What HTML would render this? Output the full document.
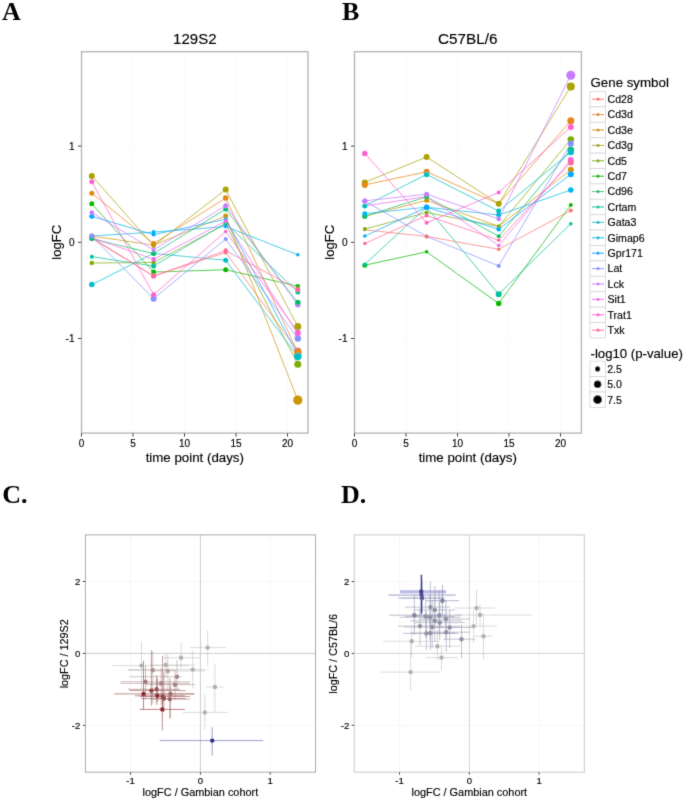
<!DOCTYPE html>
<html><head><meta charset="utf-8"><style>
html,body{margin:0;padding:0;background:#fff;}
svg{display:block;font-family:"Liberation Sans",sans-serif;}
text{stroke:#000;stroke-width:0.15px;}
text.s{stroke:none;}
#wrap{width:685px;height:801px;}
</style></head><body><div id="wrap">
<svg width="685" height="801" viewBox="0 0 685 801">
<defs><filter id="soft" x="0" y="0" width="685" height="801" filterUnits="userSpaceOnUse"><feConvolveMatrix order="3" kernelMatrix="0.015 0.085 0.015 0.085 0.6 0.085 0.015 0.085 0.015" edgeMode="none"/></filter></defs>
<rect width="685" height="801" fill="#fff"/>
<g filter="url(#soft)">
<text class="s" x="2" y="19.5" font-size="26" font-family="Liberation Serif, serif" font-weight="bold" fill="#000">A</text>
<text class="s" x="342" y="19.6" font-size="26" font-family="Liberation Serif, serif" font-weight="bold" fill="#000">B</text>
<text class="s" x="2.2" y="503" font-size="26" font-family="Liberation Serif, serif" font-weight="bold" fill="#000">C.</text>
<text class="s" x="341" y="502.6" font-size="26" font-family="Liberation Serif, serif" font-weight="bold" fill="#000">D.</text>
<line x1="107.2" y1="51.7" x2="107.2" y2="433.1" stroke="#fdfdfd" stroke-width="0"/>
<line x1="158.8" y1="51.7" x2="158.8" y2="433.1" stroke="#fdfdfd" stroke-width="0"/>
<line x1="210.2" y1="51.7" x2="210.2" y2="433.1" stroke="#fdfdfd" stroke-width="0"/>
<line x1="261.8" y1="51.7" x2="261.8" y2="433.1" stroke="#fdfdfd" stroke-width="0"/>
<line x1="81.5" y1="51.7" x2="81.5" y2="433.1" stroke="#fafafa" stroke-width="1"/>
<line x1="133.0" y1="51.7" x2="133.0" y2="433.1" stroke="#fafafa" stroke-width="1"/>
<line x1="184.5" y1="51.7" x2="184.5" y2="433.1" stroke="#fafafa" stroke-width="1"/>
<line x1="236.0" y1="51.7" x2="236.0" y2="433.1" stroke="#fafafa" stroke-width="1"/>
<line x1="287.5" y1="51.7" x2="287.5" y2="433.1" stroke="#fafafa" stroke-width="1"/>
<line x1="81.5" y1="386.6" x2="308.1" y2="386.6" stroke="#fdfdfd" stroke-width="0"/>
<line x1="81.5" y1="290.4" x2="308.1" y2="290.4" stroke="#fdfdfd" stroke-width="0"/>
<line x1="81.5" y1="194.2" x2="308.1" y2="194.2" stroke="#fdfdfd" stroke-width="0"/>
<line x1="81.5" y1="98.0" x2="308.1" y2="98.0" stroke="#fdfdfd" stroke-width="0"/>
<line x1="81.5" y1="338.5" x2="308.1" y2="338.5" stroke="#fafafa" stroke-width="1"/>
<line x1="81.5" y1="242.3" x2="308.1" y2="242.3" stroke="#fafafa" stroke-width="1"/>
<line x1="81.5" y1="146.1" x2="308.1" y2="146.1" stroke="#fafafa" stroke-width="1"/>
<polyline points="91.8,237.5 153.6,276.0 225.7,252.5 297.8,351.0" fill="none" stroke="#F8766D" stroke-width="0.9" stroke-opacity="0.8"/>
<polyline points="91.8,193.2 153.6,243.6 225.7,198.0 297.8,352.5" fill="none" stroke="#E68613" stroke-width="0.9" stroke-opacity="0.8"/>
<polyline points="91.8,236.0 153.6,245.2 225.7,216.0 297.8,400.1" fill="none" stroke="#CD9600" stroke-width="0.9" stroke-opacity="0.8"/>
<polyline points="91.8,175.9 153.6,245.7 225.7,189.5 297.8,326.5" fill="none" stroke="#ABA300" stroke-width="0.9" stroke-opacity="0.8"/>
<polyline points="91.8,263.0 153.6,262.5 225.7,224.0 297.8,364.3" fill="none" stroke="#7CAE00" stroke-width="0.9" stroke-opacity="0.8"/>
<polyline points="91.8,203.8 153.6,272.1 225.7,269.7 297.8,286.2" fill="none" stroke="#0CB702" stroke-width="0.9" stroke-opacity="0.8"/>
<polyline points="91.8,238.8 153.6,253.6 225.7,209.0 297.8,302.5" fill="none" stroke="#00BE67" stroke-width="0.9" stroke-opacity="0.8"/>
<polyline points="91.8,256.7 153.6,266.0 225.7,223.1 297.8,292.1" fill="none" stroke="#00C19A" stroke-width="0.9" stroke-opacity="0.8"/>
<polyline points="91.8,284.6 153.6,253.4 225.7,260.3 297.8,356.4" fill="none" stroke="#00BFC4" stroke-width="0.9" stroke-opacity="0.8"/>
<polyline points="91.8,236.0 153.6,232.1 225.7,226.5 297.8,254.8" fill="none" stroke="#00B8E7" stroke-width="0.9" stroke-opacity="0.8"/>
<polyline points="91.8,216.3 153.6,234.6 225.7,219.2 297.8,354.9" fill="none" stroke="#00A9FF" stroke-width="0.9" stroke-opacity="0.8"/>
<polyline points="91.8,236.0 153.6,298.7 225.7,239.0 297.8,338.5" fill="none" stroke="#8494FF" stroke-width="0.9" stroke-opacity="0.8"/>
<polyline points="91.8,212.5 153.6,250.0 225.7,205.7 297.8,304.8" fill="none" stroke="#C77CFF" stroke-width="0.9" stroke-opacity="0.8"/>
<polyline points="91.8,237.5 153.6,259.3 225.7,221.1 297.8,333.7" fill="none" stroke="#ED68ED" stroke-width="0.9" stroke-opacity="0.8"/>
<polyline points="91.8,181.7 153.6,294.7 225.7,231.5 297.8,332.2" fill="none" stroke="#FF61CC" stroke-width="0.9" stroke-opacity="0.8"/>
<polyline points="91.8,238.5 153.6,276.0 225.7,250.6 297.8,289.4" fill="none" stroke="#FF68A1" stroke-width="0.9" stroke-opacity="0.8"/>
<circle cx="91.8" cy="237.5" r="2.50" fill="#F8766D"/>
<circle cx="153.6" cy="245.7" r="2.25" fill="#ABA300"/>
<circle cx="153.6" cy="253.4" r="2.25" fill="#00BFC4"/>
<circle cx="297.8" cy="354.9" r="3.50" fill="#00A9FF"/>
<circle cx="297.8" cy="304.8" r="2.75" fill="#C77CFF"/>
<circle cx="91.8" cy="237.5" r="2.25" fill="#ED68ED"/>
<circle cx="91.8" cy="238.5" r="2.25" fill="#FF68A1"/>
<circle cx="153.6" cy="276.0" r="2.50" fill="#F8766D"/>
<circle cx="225.7" cy="252.5" r="2.00" fill="#F8766D"/>
<circle cx="297.8" cy="351.0" r="3.50" fill="#F8766D"/>
<circle cx="91.8" cy="193.2" r="2.50" fill="#E68613"/>
<circle cx="153.6" cy="243.6" r="2.50" fill="#E68613"/>
<circle cx="225.7" cy="198.0" r="2.75" fill="#E68613"/>
<circle cx="297.8" cy="352.5" r="3.75" fill="#E68613"/>
<circle cx="91.8" cy="236.0" r="2.50" fill="#CD9600"/>
<circle cx="153.6" cy="245.2" r="2.25" fill="#CD9600"/>
<circle cx="225.7" cy="216.0" r="2.50" fill="#CD9600"/>
<circle cx="297.8" cy="400.1" r="4.65" fill="#CD9600"/>
<circle cx="91.8" cy="175.9" r="3.00" fill="#ABA300"/>
<circle cx="225.7" cy="189.5" r="3.00" fill="#ABA300"/>
<circle cx="297.8" cy="326.5" r="3.50" fill="#ABA300"/>
<circle cx="91.8" cy="263.0" r="2.25" fill="#7CAE00"/>
<circle cx="153.6" cy="262.5" r="2.25" fill="#7CAE00"/>
<circle cx="225.7" cy="224.0" r="2.50" fill="#7CAE00"/>
<circle cx="297.8" cy="364.3" r="3.50" fill="#7CAE00"/>
<circle cx="91.8" cy="203.8" r="2.50" fill="#0CB702"/>
<circle cx="153.6" cy="272.1" r="2.50" fill="#0CB702"/>
<circle cx="225.7" cy="269.7" r="2.50" fill="#0CB702"/>
<circle cx="297.8" cy="286.2" r="2.25" fill="#0CB702"/>
<circle cx="91.8" cy="238.8" r="2.50" fill="#00BE67"/>
<circle cx="153.6" cy="253.6" r="2.50" fill="#00BE67"/>
<circle cx="225.7" cy="209.0" r="2.50" fill="#00BE67"/>
<circle cx="297.8" cy="302.5" r="2.75" fill="#00BE67"/>
<circle cx="91.8" cy="256.7" r="2.00" fill="#00C19A"/>
<circle cx="153.6" cy="266.0" r="2.50" fill="#00C19A"/>
<circle cx="225.7" cy="223.1" r="2.00" fill="#00C19A"/>
<circle cx="297.8" cy="292.1" r="2.50" fill="#00C19A"/>
<circle cx="91.8" cy="284.6" r="2.75" fill="#00BFC4"/>
<circle cx="225.7" cy="260.3" r="2.50" fill="#00BFC4"/>
<circle cx="297.8" cy="356.4" r="3.75" fill="#00BFC4"/>
<circle cx="91.8" cy="236.0" r="2.00" fill="#00B8E7"/>
<circle cx="153.6" cy="232.1" r="2.00" fill="#00B8E7"/>
<circle cx="225.7" cy="226.5" r="2.00" fill="#00B8E7"/>
<circle cx="297.8" cy="254.8" r="1.75" fill="#00B8E7"/>
<circle cx="91.8" cy="216.3" r="2.50" fill="#00A9FF"/>
<circle cx="153.6" cy="234.6" r="2.00" fill="#00A9FF"/>
<circle cx="225.7" cy="219.2" r="2.00" fill="#00A9FF"/>
<circle cx="91.8" cy="236.0" r="2.50" fill="#8494FF"/>
<circle cx="153.6" cy="298.7" r="3.00" fill="#8494FF"/>
<circle cx="225.7" cy="239.0" r="2.00" fill="#8494FF"/>
<circle cx="297.8" cy="338.5" r="3.25" fill="#8494FF"/>
<circle cx="91.8" cy="212.5" r="2.25" fill="#C77CFF"/>
<circle cx="153.6" cy="250.0" r="2.00" fill="#C77CFF"/>
<circle cx="225.7" cy="205.7" r="2.50" fill="#C77CFF"/>
<circle cx="153.6" cy="259.3" r="2.25" fill="#ED68ED"/>
<circle cx="225.7" cy="221.1" r="2.00" fill="#ED68ED"/>
<circle cx="297.8" cy="333.7" r="2.75" fill="#ED68ED"/>
<circle cx="91.8" cy="181.7" r="2.50" fill="#FF61CC"/>
<circle cx="153.6" cy="294.7" r="2.50" fill="#FF61CC"/>
<circle cx="225.7" cy="231.5" r="1.75" fill="#FF61CC"/>
<circle cx="297.8" cy="332.2" r="2.75" fill="#FF61CC"/>
<circle cx="153.6" cy="276.0" r="2.50" fill="#FF68A1"/>
<circle cx="225.7" cy="250.6" r="2.25" fill="#FF68A1"/>
<circle cx="297.8" cy="289.4" r="2.50" fill="#FF68A1"/>
<rect x="81.5" y="51.7" width="226.5" height="381.4" fill="none" stroke="#b6b6b6" stroke-width="1.35"/>
<line x1="81.5" y1="433.1" x2="81.5" y2="436.6" stroke="#444" stroke-width="1"/>
<text x="81.5" y="446.8" font-size="10" text-anchor="middle" fill="#000" >0</text>
<line x1="133.0" y1="433.1" x2="133.0" y2="436.6" stroke="#444" stroke-width="1"/>
<text x="133.0" y="446.8" font-size="10" text-anchor="middle" fill="#000" >5</text>
<line x1="184.5" y1="433.1" x2="184.5" y2="436.6" stroke="#444" stroke-width="1"/>
<text x="184.5" y="446.8" font-size="10" text-anchor="middle" fill="#000" >10</text>
<line x1="236.0" y1="433.1" x2="236.0" y2="436.6" stroke="#444" stroke-width="1"/>
<text x="236.0" y="446.8" font-size="10" text-anchor="middle" fill="#000" >15</text>
<line x1="287.5" y1="433.1" x2="287.5" y2="436.6" stroke="#444" stroke-width="1"/>
<text x="287.5" y="446.8" font-size="10" text-anchor="middle" fill="#000" >20</text>
<line x1="78.0" y1="338.5" x2="81.5" y2="338.5" stroke="#444" stroke-width="1"/>
<text x="74.5" y="342.2" font-size="10" text-anchor="end" fill="#000" >-1</text>
<line x1="78.0" y1="242.3" x2="81.5" y2="242.3" stroke="#444" stroke-width="1"/>
<text x="74.5" y="246.0" font-size="10" text-anchor="end" fill="#000" >0</text>
<line x1="78.0" y1="146.1" x2="81.5" y2="146.1" stroke="#444" stroke-width="1"/>
<text x="74.5" y="149.8" font-size="10" text-anchor="end" fill="#000" >1</text>
<text x="194.8" y="44.2" font-size="15" text-anchor="middle" fill="#000" >129S2</text>
<text x="194.8" y="462.4" font-size="13.3" text-anchor="middle" fill="#000" >time point (days)</text>
<text x="0" y="0" font-size="13" text-anchor="middle" fill="#000" transform="translate(60.7,242.3) rotate(-90)">logFC</text>
<line x1="380.2" y1="51.7" x2="380.2" y2="433.1" stroke="#fdfdfd" stroke-width="0"/>
<line x1="431.8" y1="51.7" x2="431.8" y2="433.1" stroke="#fdfdfd" stroke-width="0"/>
<line x1="483.2" y1="51.7" x2="483.2" y2="433.1" stroke="#fdfdfd" stroke-width="0"/>
<line x1="534.8" y1="51.7" x2="534.8" y2="433.1" stroke="#fdfdfd" stroke-width="0"/>
<line x1="354.5" y1="51.7" x2="354.5" y2="433.1" stroke="#fafafa" stroke-width="1"/>
<line x1="406.0" y1="51.7" x2="406.0" y2="433.1" stroke="#fafafa" stroke-width="1"/>
<line x1="457.5" y1="51.7" x2="457.5" y2="433.1" stroke="#fafafa" stroke-width="1"/>
<line x1="509.0" y1="51.7" x2="509.0" y2="433.1" stroke="#fafafa" stroke-width="1"/>
<line x1="560.5" y1="51.7" x2="560.5" y2="433.1" stroke="#fafafa" stroke-width="1"/>
<line x1="354.5" y1="386.6" x2="581.1" y2="386.6" stroke="#fdfdfd" stroke-width="0"/>
<line x1="354.5" y1="290.4" x2="581.1" y2="290.4" stroke="#fdfdfd" stroke-width="0"/>
<line x1="354.5" y1="194.2" x2="581.1" y2="194.2" stroke="#fdfdfd" stroke-width="0"/>
<line x1="354.5" y1="98.0" x2="581.1" y2="98.0" stroke="#fdfdfd" stroke-width="0"/>
<line x1="354.5" y1="338.5" x2="581.1" y2="338.5" stroke="#fafafa" stroke-width="1"/>
<line x1="354.5" y1="242.3" x2="581.1" y2="242.3" stroke="#fafafa" stroke-width="1"/>
<line x1="354.5" y1="146.1" x2="581.1" y2="146.1" stroke="#fafafa" stroke-width="1"/>
<polyline points="364.8,229.8 426.6,236.4 498.7,249.3 570.8,210.6" fill="none" stroke="#F8766D" stroke-width="0.9" stroke-opacity="0.8"/>
<polyline points="364.8,184.9 426.6,171.8 498.7,203.8 570.8,120.8" fill="none" stroke="#E68613" stroke-width="0.9" stroke-opacity="0.8"/>
<polyline points="364.8,216.3 426.6,200.3 498.7,226.4 570.8,169.8" fill="none" stroke="#CD9600" stroke-width="0.9" stroke-opacity="0.8"/>
<polyline points="364.8,182.4 426.6,157.0 498.7,203.8 570.8,86.5" fill="none" stroke="#ABA300" stroke-width="0.9" stroke-opacity="0.8"/>
<polyline points="364.8,229.1 426.6,212.5 498.7,226.4 570.8,139.4" fill="none" stroke="#7CAE00" stroke-width="0.9" stroke-opacity="0.8"/>
<polyline points="364.8,265.2 426.6,251.8 498.7,303.5 570.8,205.1" fill="none" stroke="#0CB702" stroke-width="0.9" stroke-opacity="0.8"/>
<polyline points="364.8,216.3 426.6,196.8 498.7,236.2 570.8,149.7" fill="none" stroke="#00BE67" stroke-width="0.9" stroke-opacity="0.8"/>
<polyline points="364.8,264.4 426.6,207.2 498.7,294.2 570.8,223.7" fill="none" stroke="#00C19A" stroke-width="0.9" stroke-opacity="0.8"/>
<polyline points="364.8,205.9 426.6,174.4 498.7,211.1 570.8,151.9" fill="none" stroke="#00BFC4" stroke-width="0.9" stroke-opacity="0.8"/>
<polyline points="364.8,213.7 426.6,207.2 498.7,215.0 570.8,190.0" fill="none" stroke="#00B8E7" stroke-width="0.9" stroke-opacity="0.8"/>
<polyline points="364.8,236.1 426.6,207.2 498.7,229.2 570.8,174.3" fill="none" stroke="#00A9FF" stroke-width="0.9" stroke-opacity="0.8"/>
<polyline points="364.8,201.1 426.6,236.4 498.7,265.9 570.8,143.7" fill="none" stroke="#8494FF" stroke-width="0.9" stroke-opacity="0.8"/>
<polyline points="364.8,200.9 426.6,194.2 498.7,219.0 570.8,75.3" fill="none" stroke="#C77CFF" stroke-width="0.9" stroke-opacity="0.8"/>
<polyline points="364.8,205.9 426.6,196.6 498.7,245.5 570.8,160.1" fill="none" stroke="#ED68ED" stroke-width="0.9" stroke-opacity="0.8"/>
<polyline points="364.8,153.4 426.6,222.8 498.7,192.4 570.8,126.9" fill="none" stroke="#FF61CC" stroke-width="0.9" stroke-opacity="0.8"/>
<polyline points="364.8,243.6 426.6,215.5 498.7,240.2 570.8,162.5" fill="none" stroke="#FF68A1" stroke-width="0.9" stroke-opacity="0.8"/>
<circle cx="364.8" cy="182.4" r="3.00" fill="#ABA300"/>
<circle cx="426.6" cy="236.4" r="2.00" fill="#8494FF"/>
<circle cx="364.8" cy="205.9" r="2.00" fill="#ED68ED"/>
<circle cx="426.6" cy="196.6" r="2.00" fill="#ED68ED"/>
<circle cx="364.8" cy="229.8" r="1.50" fill="#F8766D"/>
<circle cx="426.6" cy="236.4" r="2.00" fill="#F8766D"/>
<circle cx="498.7" cy="249.3" r="1.75" fill="#F8766D"/>
<circle cx="570.8" cy="210.6" r="2.00" fill="#F8766D"/>
<circle cx="364.8" cy="184.9" r="3.00" fill="#E68613"/>
<circle cx="426.6" cy="171.8" r="3.00" fill="#E68613"/>
<circle cx="498.7" cy="203.8" r="2.50" fill="#E68613"/>
<circle cx="570.8" cy="120.8" r="3.50" fill="#E68613"/>
<circle cx="364.8" cy="216.3" r="2.50" fill="#CD9600"/>
<circle cx="426.6" cy="200.3" r="2.50" fill="#CD9600"/>
<circle cx="498.7" cy="226.4" r="2.00" fill="#CD9600"/>
<circle cx="570.8" cy="169.8" r="3.00" fill="#CD9600"/>
<circle cx="426.6" cy="157.0" r="3.00" fill="#ABA300"/>
<circle cx="498.7" cy="203.8" r="3.00" fill="#ABA300"/>
<circle cx="570.8" cy="86.5" r="4.00" fill="#ABA300"/>
<circle cx="364.8" cy="229.1" r="2.00" fill="#7CAE00"/>
<circle cx="426.6" cy="212.5" r="2.00" fill="#7CAE00"/>
<circle cx="498.7" cy="226.4" r="2.00" fill="#7CAE00"/>
<circle cx="570.8" cy="139.4" r="3.25" fill="#7CAE00"/>
<circle cx="364.8" cy="265.2" r="2.50" fill="#0CB702"/>
<circle cx="426.6" cy="251.8" r="1.75" fill="#0CB702"/>
<circle cx="498.7" cy="303.5" r="2.75" fill="#0CB702"/>
<circle cx="570.8" cy="205.1" r="2.00" fill="#0CB702"/>
<circle cx="364.8" cy="216.3" r="2.50" fill="#00BE67"/>
<circle cx="426.6" cy="196.8" r="2.50" fill="#00BE67"/>
<circle cx="498.7" cy="236.2" r="2.00" fill="#00BE67"/>
<circle cx="570.8" cy="149.7" r="3.25" fill="#00BE67"/>
<circle cx="364.8" cy="264.4" r="2.00" fill="#00C19A"/>
<circle cx="426.6" cy="207.2" r="2.50" fill="#00C19A"/>
<circle cx="498.7" cy="294.2" r="3.00" fill="#00C19A"/>
<circle cx="570.8" cy="223.7" r="1.75" fill="#00C19A"/>
<circle cx="364.8" cy="205.9" r="2.50" fill="#00BFC4"/>
<circle cx="426.6" cy="174.4" r="2.75" fill="#00BFC4"/>
<circle cx="498.7" cy="211.1" r="2.50" fill="#00BFC4"/>
<circle cx="570.8" cy="151.9" r="3.25" fill="#00BFC4"/>
<circle cx="364.8" cy="213.7" r="2.50" fill="#00B8E7"/>
<circle cx="426.6" cy="207.2" r="2.50" fill="#00B8E7"/>
<circle cx="498.7" cy="215.0" r="2.50" fill="#00B8E7"/>
<circle cx="570.8" cy="190.0" r="2.75" fill="#00B8E7"/>
<circle cx="364.8" cy="236.1" r="1.75" fill="#00A9FF"/>
<circle cx="426.6" cy="207.2" r="2.75" fill="#00A9FF"/>
<circle cx="498.7" cy="229.2" r="2.25" fill="#00A9FF"/>
<circle cx="570.8" cy="174.3" r="3.00" fill="#00A9FF"/>
<circle cx="364.8" cy="201.1" r="2.50" fill="#8494FF"/>
<circle cx="498.7" cy="265.9" r="2.00" fill="#8494FF"/>
<circle cx="570.8" cy="143.7" r="3.00" fill="#8494FF"/>
<circle cx="364.8" cy="200.9" r="2.50" fill="#C77CFF"/>
<circle cx="426.6" cy="194.2" r="2.50" fill="#C77CFF"/>
<circle cx="498.7" cy="219.0" r="2.25" fill="#C77CFF"/>
<circle cx="570.8" cy="75.3" r="4.50" fill="#C77CFF"/>
<circle cx="498.7" cy="245.5" r="1.75" fill="#ED68ED"/>
<circle cx="570.8" cy="160.1" r="3.00" fill="#ED68ED"/>
<circle cx="364.8" cy="153.4" r="2.75" fill="#FF61CC"/>
<circle cx="426.6" cy="222.8" r="2.00" fill="#FF61CC"/>
<circle cx="498.7" cy="192.4" r="2.00" fill="#FF61CC"/>
<circle cx="570.8" cy="126.9" r="3.00" fill="#FF61CC"/>
<circle cx="364.8" cy="243.6" r="1.75" fill="#FF68A1"/>
<circle cx="426.6" cy="215.5" r="2.00" fill="#FF68A1"/>
<circle cx="498.7" cy="240.2" r="1.75" fill="#FF68A1"/>
<circle cx="570.8" cy="162.5" r="3.00" fill="#FF68A1"/>
<rect x="354.5" y="51.7" width="226.9" height="381.4" fill="none" stroke="#b6b6b6" stroke-width="1.35"/>
<line x1="354.5" y1="433.1" x2="354.5" y2="436.6" stroke="#444" stroke-width="1"/>
<text x="354.5" y="446.8" font-size="10" text-anchor="middle" fill="#000" >0</text>
<line x1="406.0" y1="433.1" x2="406.0" y2="436.6" stroke="#444" stroke-width="1"/>
<text x="406.0" y="446.8" font-size="10" text-anchor="middle" fill="#000" >5</text>
<line x1="457.5" y1="433.1" x2="457.5" y2="436.6" stroke="#444" stroke-width="1"/>
<text x="457.5" y="446.8" font-size="10" text-anchor="middle" fill="#000" >10</text>
<line x1="509.0" y1="433.1" x2="509.0" y2="436.6" stroke="#444" stroke-width="1"/>
<text x="509.0" y="446.8" font-size="10" text-anchor="middle" fill="#000" >15</text>
<line x1="560.5" y1="433.1" x2="560.5" y2="436.6" stroke="#444" stroke-width="1"/>
<text x="560.5" y="446.8" font-size="10" text-anchor="middle" fill="#000" >20</text>
<line x1="351.0" y1="338.5" x2="354.5" y2="338.5" stroke="#444" stroke-width="1"/>
<text x="347.5" y="342.2" font-size="10" text-anchor="end" fill="#000" >-1</text>
<line x1="351.0" y1="242.3" x2="354.5" y2="242.3" stroke="#444" stroke-width="1"/>
<text x="347.5" y="246.0" font-size="10" text-anchor="end" fill="#000" >0</text>
<line x1="351.0" y1="146.1" x2="354.5" y2="146.1" stroke="#444" stroke-width="1"/>
<text x="347.5" y="149.8" font-size="10" text-anchor="end" fill="#000" >1</text>
<text x="467.8" y="44.2" font-size="15.3" text-anchor="middle" fill="#000" >C57BL/6</text>
<text x="467.8" y="462.4" font-size="13.3" text-anchor="middle" fill="#000" >time point (days)</text>
<text x="0" y="0" font-size="13" text-anchor="middle" fill="#000" transform="translate(333.7,242.3) rotate(-90)">logFC</text>
<text x="590.5" y="87.2" font-size="13.3" text-anchor="start" fill="#000" >Gene symbol</text>
<rect x="590" y="91.5" width="15.5" height="15.4" fill="#fff" stroke="#d4d4d4" stroke-width="0.8"/>
<line x1="592" y1="99.2" x2="604" y2="99.2" stroke="#F8766D" stroke-width="1"/>
<circle cx="598" cy="99.2" r="1.6" fill="#F8766D"/>
<text x="607.5" y="103.0" font-size="10.6" text-anchor="start" fill="#000" >Cd28</text>
<rect x="590" y="106.9" width="15.5" height="15.4" fill="#fff" stroke="#d4d4d4" stroke-width="0.8"/>
<line x1="592" y1="114.6" x2="604" y2="114.6" stroke="#E68613" stroke-width="1"/>
<circle cx="598" cy="114.6" r="1.6" fill="#E68613"/>
<text x="607.5" y="118.4" font-size="10.6" text-anchor="start" fill="#000" >Cd3d</text>
<rect x="590" y="122.3" width="15.5" height="15.4" fill="#fff" stroke="#d4d4d4" stroke-width="0.8"/>
<line x1="592" y1="130.0" x2="604" y2="130.0" stroke="#CD9600" stroke-width="1"/>
<circle cx="598" cy="130.0" r="1.6" fill="#CD9600"/>
<text x="607.5" y="133.8" font-size="10.6" text-anchor="start" fill="#000" >Cd3e</text>
<rect x="590" y="137.7" width="15.5" height="15.4" fill="#fff" stroke="#d4d4d4" stroke-width="0.8"/>
<line x1="592" y1="145.4" x2="604" y2="145.4" stroke="#ABA300" stroke-width="1"/>
<circle cx="598" cy="145.4" r="1.6" fill="#ABA300"/>
<text x="607.5" y="149.2" font-size="10.6" text-anchor="start" fill="#000" >Cd3g</text>
<rect x="590" y="153.1" width="15.5" height="15.4" fill="#fff" stroke="#d4d4d4" stroke-width="0.8"/>
<line x1="592" y1="160.8" x2="604" y2="160.8" stroke="#7CAE00" stroke-width="1"/>
<circle cx="598" cy="160.8" r="1.6" fill="#7CAE00"/>
<text x="607.5" y="164.6" font-size="10.6" text-anchor="start" fill="#000" >Cd5</text>
<rect x="590" y="168.5" width="15.5" height="15.4" fill="#fff" stroke="#d4d4d4" stroke-width="0.8"/>
<line x1="592" y1="176.2" x2="604" y2="176.2" stroke="#0CB702" stroke-width="1"/>
<circle cx="598" cy="176.2" r="1.6" fill="#0CB702"/>
<text x="607.5" y="180.0" font-size="10.6" text-anchor="start" fill="#000" >Cd7</text>
<rect x="590" y="183.9" width="15.5" height="15.4" fill="#fff" stroke="#d4d4d4" stroke-width="0.8"/>
<line x1="592" y1="191.6" x2="604" y2="191.6" stroke="#00BE67" stroke-width="1"/>
<circle cx="598" cy="191.6" r="1.6" fill="#00BE67"/>
<text x="607.5" y="195.4" font-size="10.6" text-anchor="start" fill="#000" >Cd96</text>
<rect x="590" y="199.3" width="15.5" height="15.4" fill="#fff" stroke="#d4d4d4" stroke-width="0.8"/>
<line x1="592" y1="207.0" x2="604" y2="207.0" stroke="#00C19A" stroke-width="1"/>
<circle cx="598" cy="207.0" r="1.6" fill="#00C19A"/>
<text x="607.5" y="210.8" font-size="10.6" text-anchor="start" fill="#000" >Crtam</text>
<rect x="590" y="214.7" width="15.5" height="15.4" fill="#fff" stroke="#d4d4d4" stroke-width="0.8"/>
<line x1="592" y1="222.4" x2="604" y2="222.4" stroke="#00BFC4" stroke-width="1"/>
<circle cx="598" cy="222.4" r="1.6" fill="#00BFC4"/>
<text x="607.5" y="226.2" font-size="10.6" text-anchor="start" fill="#000" >Gata3</text>
<rect x="590" y="230.1" width="15.5" height="15.4" fill="#fff" stroke="#d4d4d4" stroke-width="0.8"/>
<line x1="592" y1="237.8" x2="604" y2="237.8" stroke="#00B8E7" stroke-width="1"/>
<circle cx="598" cy="237.8" r="1.6" fill="#00B8E7"/>
<text x="607.5" y="241.6" font-size="10.6" text-anchor="start" fill="#000" >Gimap6</text>
<rect x="590" y="245.5" width="15.5" height="15.4" fill="#fff" stroke="#d4d4d4" stroke-width="0.8"/>
<line x1="592" y1="253.2" x2="604" y2="253.2" stroke="#00A9FF" stroke-width="1"/>
<circle cx="598" cy="253.2" r="1.6" fill="#00A9FF"/>
<text x="607.5" y="257.0" font-size="10.6" text-anchor="start" fill="#000" >Gpr171</text>
<rect x="590" y="260.9" width="15.5" height="15.4" fill="#fff" stroke="#d4d4d4" stroke-width="0.8"/>
<line x1="592" y1="268.6" x2="604" y2="268.6" stroke="#8494FF" stroke-width="1"/>
<circle cx="598" cy="268.6" r="1.6" fill="#8494FF"/>
<text x="607.5" y="272.4" font-size="10.6" text-anchor="start" fill="#000" >Lat</text>
<rect x="590" y="276.3" width="15.5" height="15.4" fill="#fff" stroke="#d4d4d4" stroke-width="0.8"/>
<line x1="592" y1="284.0" x2="604" y2="284.0" stroke="#C77CFF" stroke-width="1"/>
<circle cx="598" cy="284.0" r="1.6" fill="#C77CFF"/>
<text x="607.5" y="287.8" font-size="10.6" text-anchor="start" fill="#000" >Lck</text>
<rect x="590" y="291.7" width="15.5" height="15.4" fill="#fff" stroke="#d4d4d4" stroke-width="0.8"/>
<line x1="592" y1="299.4" x2="604" y2="299.4" stroke="#ED68ED" stroke-width="1"/>
<circle cx="598" cy="299.4" r="1.6" fill="#ED68ED"/>
<text x="607.5" y="303.2" font-size="10.6" text-anchor="start" fill="#000" >Sit1</text>
<rect x="590" y="307.1" width="15.5" height="15.4" fill="#fff" stroke="#d4d4d4" stroke-width="0.8"/>
<line x1="592" y1="314.8" x2="604" y2="314.8" stroke="#FF61CC" stroke-width="1"/>
<circle cx="598" cy="314.8" r="1.6" fill="#FF61CC"/>
<text x="607.5" y="318.6" font-size="10.6" text-anchor="start" fill="#000" >Trat1</text>
<rect x="590" y="322.5" width="15.5" height="15.4" fill="#fff" stroke="#d4d4d4" stroke-width="0.8"/>
<line x1="592" y1="330.2" x2="604" y2="330.2" stroke="#FF68A1" stroke-width="1"/>
<circle cx="598" cy="330.2" r="1.6" fill="#FF68A1"/>
<text x="607.5" y="334.0" font-size="10.6" text-anchor="start" fill="#000" >Txk</text>
<text x="590.5" y="357.6" font-size="13.2" text-anchor="start" fill="#000" >-log10 (p-value)</text>
<rect x="590" y="361.2" width="15.5" height="15.4" fill="#fff" stroke="#d4d4d4" stroke-width="0.8"/>
<circle cx="597.6" cy="368.9" r="2.6" fill="#000"/>
<text x="607.2" y="372.7" font-size="10.6" text-anchor="start" fill="#000" >2.5</text>
<rect x="590" y="376.6" width="15.5" height="15.4" fill="#fff" stroke="#d4d4d4" stroke-width="0.8"/>
<circle cx="597.6" cy="384.3" r="3.8" fill="#000"/>
<text x="607.2" y="388.1" font-size="10.6" text-anchor="start" fill="#000" >5.0</text>
<rect x="590" y="392.0" width="15.5" height="15.4" fill="#fff" stroke="#d4d4d4" stroke-width="0.8"/>
<circle cx="597.6" cy="399.7" r="4.4" fill="#000"/>
<text x="607.2" y="403.5" font-size="10.6" text-anchor="start" fill="#000" >7.5</text>
<line x1="95.7" y1="534.9" x2="95.7" y2="772.2" stroke="#fbfbfb" stroke-width="0"/>
<line x1="165.5" y1="534.9" x2="165.5" y2="772.2" stroke="#fbfbfb" stroke-width="0"/>
<line x1="235.3" y1="534.9" x2="235.3" y2="772.2" stroke="#fbfbfb" stroke-width="0"/>
<line x1="305.1" y1="534.9" x2="305.1" y2="772.2" stroke="#fbfbfb" stroke-width="0"/>
<line x1="130.6" y1="534.9" x2="130.6" y2="772.2" stroke="#f7f7f7" stroke-width="1"/>
<line x1="270.2" y1="534.9" x2="270.2" y2="772.2" stroke="#f7f7f7" stroke-width="1"/>
<line x1="85.4" y1="761.2" x2="315.5" y2="761.2" stroke="#fbfbfb" stroke-width="0"/>
<line x1="85.4" y1="689.4" x2="315.5" y2="689.4" stroke="#fbfbfb" stroke-width="0"/>
<line x1="85.4" y1="617.4" x2="315.5" y2="617.4" stroke="#fbfbfb" stroke-width="0"/>
<line x1="85.4" y1="545.5" x2="315.5" y2="545.5" stroke="#fbfbfb" stroke-width="0"/>
<line x1="85.4" y1="725.3" x2="315.5" y2="725.3" stroke="#f7f7f7" stroke-width="1"/>
<line x1="85.4" y1="581.5" x2="315.5" y2="581.5" stroke="#f7f7f7" stroke-width="1"/>
<line x1="200.4" y1="534.9" x2="200.4" y2="772.2" stroke="#cccccc" stroke-width="1"/>
<line x1="85.4" y1="653.4" x2="315.5" y2="653.4" stroke="#cccccc" stroke-width="1"/>
<line x1="190" y1="647.6" x2="225.7" y2="647.6" stroke="#bebebe" stroke-width="0.9" stroke-opacity="0.62"/>
<line x1="207.7" y1="630.2" x2="207.7" y2="666" stroke="#bebebe" stroke-width="0.9" stroke-opacity="0.62"/>
<line x1="162.6" y1="657.8" x2="200.5" y2="657.8" stroke="#bebebe" stroke-width="0.9" stroke-opacity="0.62"/>
<line x1="181.1" y1="642.5" x2="181.1" y2="669" stroke="#bebebe" stroke-width="0.9" stroke-opacity="0.62"/>
<line x1="112.5" y1="665.6" x2="189" y2="665.6" stroke="#bebebe" stroke-width="0.9" stroke-opacity="0.62"/>
<line x1="141.5" y1="641.5" x2="141.5" y2="689.5" stroke="#bebebe" stroke-width="0.9" stroke-opacity="0.62"/>
<line x1="150" y1="665" x2="195" y2="665" stroke="#bebebe" stroke-width="0.9" stroke-opacity="0.62"/>
<line x1="165.8" y1="653" x2="165.8" y2="677.5" stroke="#bebebe" stroke-width="0.9" stroke-opacity="0.62"/>
<line x1="128.6" y1="669.6" x2="207.3" y2="669.6" stroke="#bebebe" stroke-width="0.9" stroke-opacity="0.62"/>
<line x1="192.8" y1="650.5" x2="192.8" y2="688.6" stroke="#bebebe" stroke-width="0.9" stroke-opacity="0.62"/>
<line x1="128" y1="670.2" x2="175" y2="670.2" stroke="#b39d9d" stroke-width="0.9" stroke-opacity="0.62"/>
<line x1="152.7" y1="651" x2="152.7" y2="704" stroke="#b39d9d" stroke-width="0.9" stroke-opacity="0.62"/>
<line x1="150" y1="670.9" x2="205" y2="670.9" stroke="#b8aeae" stroke-width="0.9" stroke-opacity="0.62"/>
<line x1="167.8" y1="654.5" x2="167.8" y2="690.6" stroke="#b8aeae" stroke-width="0.9" stroke-opacity="0.62"/>
<line x1="129.6" y1="676.7" x2="181.7" y2="676.7" stroke="#b09595" stroke-width="0.9" stroke-opacity="0.62"/>
<line x1="177" y1="660" x2="177" y2="690" stroke="#b09595" stroke-width="0.9" stroke-opacity="0.62"/>
<line x1="120.5" y1="681.8" x2="190" y2="681.8" stroke="#ab8484" stroke-width="0.9" stroke-opacity="0.62"/>
<line x1="145.5" y1="665" x2="145.5" y2="700" stroke="#ab8484" stroke-width="0.9" stroke-opacity="0.62"/>
<line x1="120.4" y1="683.4" x2="190" y2="683.4" stroke="#ae8c8c" stroke-width="0.9" stroke-opacity="0.62"/>
<line x1="161.2" y1="668" x2="161.2" y2="705" stroke="#ae8c8c" stroke-width="0.9" stroke-opacity="0.62"/>
<line x1="145" y1="684.7" x2="195" y2="684.7" stroke="#ae8c8c" stroke-width="0.9" stroke-opacity="0.62"/>
<line x1="175" y1="670" x2="175" y2="700" stroke="#ae8c8c" stroke-width="0.9" stroke-opacity="0.62"/>
<line x1="128" y1="689.3" x2="180" y2="689.3" stroke="#9d5b5b" stroke-width="0.9" stroke-opacity="0.62"/>
<line x1="156.6" y1="675" x2="156.6" y2="705" stroke="#9d5b5b" stroke-width="0.9" stroke-opacity="0.62"/>
<line x1="129.6" y1="690.6" x2="185.8" y2="690.6" stroke="#954242" stroke-width="0.9" stroke-opacity="0.62"/>
<line x1="151.4" y1="650.5" x2="151.4" y2="705.7" stroke="#954242" stroke-width="0.9" stroke-opacity="0.62"/>
<line x1="114.3" y1="693.9" x2="194" y2="693.9" stroke="#8c2a2a" stroke-width="0.9" stroke-opacity="0.62"/>
<line x1="143.5" y1="661" x2="143.5" y2="709.6" stroke="#8c2a2a" stroke-width="0.9" stroke-opacity="0.62"/>
<line x1="135" y1="695.8" x2="185" y2="695.8" stroke="#8f3232" stroke-width="0.9" stroke-opacity="0.62"/>
<line x1="157.3" y1="678" x2="157.3" y2="702.4" stroke="#8f3232" stroke-width="0.9" stroke-opacity="0.62"/>
<line x1="140" y1="696.5" x2="190" y2="696.5" stroke="#984b4b" stroke-width="0.9" stroke-opacity="0.62"/>
<line x1="162.6" y1="655.8" x2="162.6" y2="710" stroke="#984b4b" stroke-width="0.9" stroke-opacity="0.62"/>
<line x1="140.9" y1="698.5" x2="185.8" y2="698.5" stroke="#9a5353" stroke-width="0.9" stroke-opacity="0.62"/>
<line x1="163.9" y1="672" x2="163.9" y2="712" stroke="#9a5353" stroke-width="0.9" stroke-opacity="0.62"/>
<line x1="150" y1="693.9" x2="195" y2="693.9" stroke="#a57474" stroke-width="0.9" stroke-opacity="0.62"/>
<line x1="170.4" y1="685.4" x2="170.4" y2="718" stroke="#a57474" stroke-width="0.9" stroke-opacity="0.62"/>
<line x1="150" y1="699.1" x2="190" y2="699.1" stroke="#a26c6c" stroke-width="0.9" stroke-opacity="0.62"/>
<line x1="169.8" y1="678" x2="169.8" y2="718.8" stroke="#a26c6c" stroke-width="0.9" stroke-opacity="0.62"/>
<line x1="139.6" y1="709.4" x2="184.9" y2="709.4" stroke="#8c2a2a" stroke-width="0.9" stroke-opacity="0.62"/>
<line x1="162.3" y1="697.7" x2="162.3" y2="730.4" stroke="#8c2a2a" stroke-width="0.9" stroke-opacity="0.62"/>
<line x1="206.3" y1="687" x2="223.6" y2="687" stroke="#bebebe" stroke-width="0.9" stroke-opacity="0.62"/>
<line x1="214.9" y1="664" x2="214.9" y2="712" stroke="#bebebe" stroke-width="0.9" stroke-opacity="0.62"/>
<line x1="182.8" y1="712.4" x2="227.7" y2="712.4" stroke="#bebebe" stroke-width="0.9" stroke-opacity="0.62"/>
<line x1="204.8" y1="694.6" x2="204.8" y2="729.3" stroke="#bebebe" stroke-width="0.9" stroke-opacity="0.62"/>
<line x1="159.8" y1="740.6" x2="263.1" y2="740.6" stroke="#5050a8" stroke-width="0.9" stroke-opacity="0.62"/>
<line x1="212.2" y1="727.1" x2="212.2" y2="755.6" stroke="#5050a8" stroke-width="0.9" stroke-opacity="0.62"/>
<circle cx="207.7" cy="647.6" r="2.2" fill="#b0b0b0"/>
<circle cx="181.1" cy="657.8" r="2.2" fill="#b0b0b0"/>
<circle cx="141.5" cy="665.6" r="2.2" fill="#b0b0b0"/>
<circle cx="165.8" cy="665" r="2.2" fill="#b0b0b0"/>
<circle cx="192.8" cy="669.6" r="2.2" fill="#b0b0b0"/>
<circle cx="152.7" cy="670.2" r="2.2" fill="#a89292"/>
<circle cx="167.8" cy="670.9" r="2.2" fill="#aca1a1"/>
<circle cx="177" cy="676.7" r="2.2" fill="#a68a8a"/>
<circle cx="145.5" cy="681.8" r="2.2" fill="#a27b7b"/>
<circle cx="161.2" cy="683.4" r="2.2" fill="#a48383"/>
<circle cx="175" cy="684.7" r="2.2" fill="#a48383"/>
<circle cx="156.6" cy="689.3" r="2.2" fill="#975555"/>
<circle cx="151.4" cy="690.6" r="2.2" fill="#913f3f"/>
<circle cx="143.5" cy="693.9" r="2.2" fill="#8b2828"/>
<circle cx="157.3" cy="695.8" r="2.2" fill="#8d3030"/>
<circle cx="162.6" cy="696.5" r="2.2" fill="#934646"/>
<circle cx="163.9" cy="698.5" r="2.2" fill="#954e4e"/>
<circle cx="170.4" cy="693.9" r="2.2" fill="#9e6c6c"/>
<circle cx="169.8" cy="699.1" r="2.2" fill="#9c6464"/>
<circle cx="162.3" cy="709.4" r="2.2" fill="#8b2828"/>
<circle cx="214.9" cy="687" r="2.2" fill="#b0b0b0"/>
<circle cx="204.8" cy="712.4" r="2.2" fill="#b0b0b0"/>
<circle cx="212.2" cy="740.6" r="2.2" fill="#2e2e88"/>
<rect x="85.4" y="534.9" width="230.1" height="237.3" fill="none" stroke="#ababab" stroke-width="1.0"/>
<line x1="130.6" y1="772.2" x2="130.6" y2="774.7" stroke="#444" stroke-width="1"/>
<text x="130.6" y="783.9" font-size="9.6" text-anchor="middle" fill="#000" >-1</text>
<line x1="200.4" y1="772.2" x2="200.4" y2="774.7" stroke="#444" stroke-width="1"/>
<text x="200.4" y="783.9" font-size="9.6" text-anchor="middle" fill="#000" >0</text>
<line x1="270.2" y1="772.2" x2="270.2" y2="774.7" stroke="#444" stroke-width="1"/>
<text x="270.2" y="783.9" font-size="9.6" text-anchor="middle" fill="#000" >1</text>
<line x1="82.80000000000001" y1="725.3" x2="85.4" y2="725.3" stroke="#444" stroke-width="1"/>
<text x="80.4" y="728.8" font-size="9.6" text-anchor="end" fill="#000" >-2</text>
<line x1="82.80000000000001" y1="653.4" x2="85.4" y2="653.4" stroke="#444" stroke-width="1"/>
<text x="80.4" y="656.9" font-size="9.6" text-anchor="end" fill="#000" >0</text>
<line x1="82.80000000000001" y1="581.5" x2="85.4" y2="581.5" stroke="#444" stroke-width="1"/>
<text x="80.4" y="585.0" font-size="9.6" text-anchor="end" fill="#000" >2</text>
<text x="200.4" y="796.0" font-size="10.9" text-anchor="middle" fill="#000" >logFC / Gambian cohort</text>
<text x="0" y="0" font-size="10.8" text-anchor="middle" fill="#000" transform="translate(68.0,653.8) rotate(-90)">logFC / 129S2</text>
<line x1="364.6" y1="534.9" x2="364.6" y2="772.2" stroke="#fbfbfb" stroke-width="0"/>
<line x1="434.4" y1="534.9" x2="434.4" y2="772.2" stroke="#fbfbfb" stroke-width="0"/>
<line x1="504.2" y1="534.9" x2="504.2" y2="772.2" stroke="#fbfbfb" stroke-width="0"/>
<line x1="574.0" y1="534.9" x2="574.0" y2="772.2" stroke="#fbfbfb" stroke-width="0"/>
<line x1="399.5" y1="534.9" x2="399.5" y2="772.2" stroke="#f7f7f7" stroke-width="1"/>
<line x1="539.1" y1="534.9" x2="539.1" y2="772.2" stroke="#f7f7f7" stroke-width="1"/>
<line x1="354.3" y1="761.2" x2="584.4" y2="761.2" stroke="#fbfbfb" stroke-width="0"/>
<line x1="354.3" y1="689.4" x2="584.4" y2="689.4" stroke="#fbfbfb" stroke-width="0"/>
<line x1="354.3" y1="617.4" x2="584.4" y2="617.4" stroke="#fbfbfb" stroke-width="0"/>
<line x1="354.3" y1="545.5" x2="584.4" y2="545.5" stroke="#fbfbfb" stroke-width="0"/>
<line x1="354.3" y1="725.3" x2="584.4" y2="725.3" stroke="#f7f7f7" stroke-width="1"/>
<line x1="354.3" y1="581.5" x2="584.4" y2="581.5" stroke="#f7f7f7" stroke-width="1"/>
<line x1="469.3" y1="534.9" x2="469.3" y2="772.2" stroke="#d4d4d4" stroke-width="1"/>
<line x1="354.3" y1="653.4" x2="584.4" y2="653.4" stroke="#d4d4d4" stroke-width="1"/>
<rect x="400" y="590.2" width="46" height="3.2" fill="#b4b4e2" fill-opacity="0.9"/>
<line x1="388.5" y1="595.1" x2="455.6" y2="595.1" stroke="#7878b0" stroke-width="0.9" stroke-opacity="0.8"/>
<line x1="421.5" y1="575" x2="421.5" y2="613.7" stroke="#4848a8" stroke-width="1.3"/>
<circle cx="421.5" cy="594.7" r="2.2" fill="#5a5aa8"/>
<line x1="454.6" y1="608" x2="494.7" y2="608" stroke="#bebebe" stroke-width="0.9" stroke-opacity="0.62"/>
<line x1="476.5" y1="589.3" x2="476.5" y2="625" stroke="#bebebe" stroke-width="0.9" stroke-opacity="0.62"/>
<line x1="454.6" y1="615" x2="532" y2="615" stroke="#bebebe" stroke-width="0.9" stroke-opacity="0.62"/>
<line x1="480" y1="604.2" x2="480" y2="626" stroke="#bebebe" stroke-width="0.9" stroke-opacity="0.62"/>
<line x1="440" y1="626.1" x2="497" y2="626.1" stroke="#bebebe" stroke-width="0.9" stroke-opacity="0.62"/>
<line x1="473.7" y1="610" x2="473.7" y2="642.8" stroke="#bebebe" stroke-width="0.9" stroke-opacity="0.62"/>
<line x1="474.3" y1="636.2" x2="492.6" y2="636.2" stroke="#bebebe" stroke-width="0.9" stroke-opacity="0.62"/>
<line x1="483.5" y1="613.6" x2="483.5" y2="659.6" stroke="#bebebe" stroke-width="0.9" stroke-opacity="0.62"/>
<line x1="443.6" y1="639.2" x2="475.1" y2="639.2" stroke="#9494ad" stroke-width="0.9" stroke-opacity="0.62"/>
<line x1="461.5" y1="625" x2="461.5" y2="658" stroke="#9494ad" stroke-width="0.9" stroke-opacity="0.62"/>
<line x1="415" y1="646.2" x2="460" y2="646.2" stroke="#bebebe" stroke-width="0.9" stroke-opacity="0.62"/>
<line x1="437.4" y1="630" x2="437.4" y2="660" stroke="#bebebe" stroke-width="0.9" stroke-opacity="0.62"/>
<line x1="426" y1="657.6" x2="457.6" y2="657.6" stroke="#bebebe" stroke-width="0.9" stroke-opacity="0.62"/>
<line x1="441.5" y1="645" x2="441.5" y2="670" stroke="#bebebe" stroke-width="0.9" stroke-opacity="0.62"/>
<line x1="380.5" y1="672.1" x2="440" y2="672.1" stroke="#bebebe" stroke-width="0.9" stroke-opacity="0.62"/>
<line x1="410.6" y1="640" x2="410.6" y2="690" stroke="#bebebe" stroke-width="0.9" stroke-opacity="0.62"/>
<line x1="383.1" y1="641.3" x2="440.1" y2="641.3" stroke="#bebebe" stroke-width="0.9" stroke-opacity="0.62"/>
<line x1="411.7" y1="627.8" x2="411.7" y2="657.6" stroke="#bebebe" stroke-width="0.9" stroke-opacity="0.62"/>
<line x1="403" y1="633.4" x2="458" y2="633.4" stroke="#9494ad" stroke-width="0.9" stroke-opacity="0.62"/>
<line x1="426.4" y1="612" x2="426.4" y2="650" stroke="#9494ad" stroke-width="0.9" stroke-opacity="0.62"/>
<line x1="410" y1="633.1" x2="455" y2="633.1" stroke="#9494ad" stroke-width="0.9" stroke-opacity="0.62"/>
<line x1="430.4" y1="615" x2="430.4" y2="650" stroke="#9494ad" stroke-width="0.9" stroke-opacity="0.62"/>
<line x1="425" y1="632.2" x2="470" y2="632.2" stroke="#9494ad" stroke-width="0.9" stroke-opacity="0.62"/>
<line x1="446.2" y1="612" x2="446.2" y2="652" stroke="#9494ad" stroke-width="0.9" stroke-opacity="0.62"/>
<line x1="398" y1="626.1" x2="442" y2="626.1" stroke="#9494ad" stroke-width="0.9" stroke-opacity="0.62"/>
<line x1="420" y1="608" x2="420" y2="645" stroke="#9494ad" stroke-width="0.9" stroke-opacity="0.62"/>
<line x1="404" y1="627" x2="460" y2="627" stroke="#9494ad" stroke-width="0.9" stroke-opacity="0.62"/>
<line x1="432.2" y1="600" x2="432.2" y2="648" stroke="#9494ad" stroke-width="0.9" stroke-opacity="0.62"/>
<line x1="430" y1="627.5" x2="473" y2="627.5" stroke="#9494ad" stroke-width="0.9" stroke-opacity="0.62"/>
<line x1="449.7" y1="610" x2="449.7" y2="648" stroke="#9494ad" stroke-width="0.9" stroke-opacity="0.62"/>
<line x1="420" y1="619" x2="470" y2="619" stroke="#9494ad" stroke-width="0.9" stroke-opacity="0.62"/>
<line x1="445.9" y1="600" x2="445.9" y2="640" stroke="#9494ad" stroke-width="0.9" stroke-opacity="0.62"/>
<line x1="410" y1="620.8" x2="462" y2="620.8" stroke="#9494ad" stroke-width="0.9" stroke-opacity="0.62"/>
<line x1="434.8" y1="598" x2="434.8" y2="642" stroke="#9494ad" stroke-width="0.9" stroke-opacity="0.62"/>
<line x1="415" y1="622.6" x2="465" y2="622.6" stroke="#9494ad" stroke-width="0.9" stroke-opacity="0.62"/>
<line x1="439.7" y1="602" x2="439.7" y2="640" stroke="#9494ad" stroke-width="0.9" stroke-opacity="0.62"/>
<line x1="405" y1="616.4" x2="455" y2="616.4" stroke="#9494ad" stroke-width="0.9" stroke-opacity="0.62"/>
<line x1="425.7" y1="598" x2="425.7" y2="638" stroke="#9494ad" stroke-width="0.9" stroke-opacity="0.62"/>
<line x1="400" y1="617.3" x2="460" y2="617.3" stroke="#9494ad" stroke-width="0.9" stroke-opacity="0.62"/>
<line x1="430" y1="595" x2="430" y2="640" stroke="#9494ad" stroke-width="0.9" stroke-opacity="0.62"/>
<line x1="412" y1="615.2" x2="462" y2="615.2" stroke="#9494ad" stroke-width="0.9" stroke-opacity="0.62"/>
<line x1="439.2" y1="590" x2="439.2" y2="635" stroke="#9494ad" stroke-width="0.9" stroke-opacity="0.62"/>
<line x1="405" y1="607.1" x2="450" y2="607.1" stroke="#9494ad" stroke-width="0.9" stroke-opacity="0.62"/>
<line x1="430.4" y1="581.4" x2="430.4" y2="627.8" stroke="#9494ad" stroke-width="0.9" stroke-opacity="0.62"/>
<line x1="414" y1="610" x2="455" y2="610" stroke="#9494ad" stroke-width="0.9" stroke-opacity="0.62"/>
<line x1="434.8" y1="586" x2="434.8" y2="625" stroke="#9494ad" stroke-width="0.9" stroke-opacity="0.62"/>
<line x1="389.3" y1="615.2" x2="445.3" y2="615.2" stroke="#8282a6" stroke-width="0.9" stroke-opacity="0.62"/>
<line x1="414.3" y1="595.4" x2="414.3" y2="634.8" stroke="#8282a6" stroke-width="0.9" stroke-opacity="0.62"/>
<line x1="426" y1="600.7" x2="459.3" y2="600.7" stroke="#7a7aa3" stroke-width="0.9" stroke-opacity="0.62"/>
<line x1="442.4" y1="584.9" x2="442.4" y2="614.7" stroke="#7a7aa3" stroke-width="0.9" stroke-opacity="0.62"/>
<line x1="398.4" y1="598" x2="444.4" y2="598" stroke="#46468e" stroke-width="0.9" stroke-opacity="0.62"/>
<line x1="422" y1="580" x2="422" y2="612" stroke="#46468e" stroke-width="0.9" stroke-opacity="0.62"/>
<line x1="421.2" y1="591.4" x2="421.2" y2="591.4" stroke="#282882" stroke-width="0.9" stroke-opacity="0.62"/>
<line x1="421.2" y1="574.4" x2="421.2" y2="613.8" stroke="#282882" stroke-width="0.9" stroke-opacity="0.62"/>
<circle cx="476.5" cy="608" r="2.2" fill="#b0b0b0"/>
<circle cx="480" cy="615" r="2.2" fill="#b0b0b0"/>
<circle cx="473.7" cy="626.1" r="2.2" fill="#b0b0b0"/>
<circle cx="483.5" cy="636.2" r="2.2" fill="#b0b0b0"/>
<circle cx="461.5" cy="639.2" r="2.2" fill="#9292a6"/>
<circle cx="437.4" cy="646.2" r="2.2" fill="#b0b0b0"/>
<circle cx="441.5" cy="657.6" r="2.2" fill="#b0b0b0"/>
<circle cx="410.6" cy="672.1" r="2.2" fill="#b0b0b0"/>
<circle cx="411.7" cy="641.3" r="2.2" fill="#b0b0b0"/>
<circle cx="426.4" cy="633.4" r="2.2" fill="#9292a6"/>
<circle cx="430.4" cy="633.1" r="2.2" fill="#9292a6"/>
<circle cx="446.2" cy="632.2" r="2.2" fill="#9292a6"/>
<circle cx="420" cy="626.1" r="2.2" fill="#9292a6"/>
<circle cx="432.2" cy="627" r="2.2" fill="#9292a6"/>
<circle cx="449.7" cy="627.5" r="2.2" fill="#9292a6"/>
<circle cx="445.9" cy="619" r="2.2" fill="#9292a6"/>
<circle cx="434.8" cy="620.8" r="2.2" fill="#9292a6"/>
<circle cx="439.7" cy="622.6" r="2.2" fill="#9292a6"/>
<circle cx="425.7" cy="616.4" r="2.2" fill="#9292a6"/>
<circle cx="430" cy="617.3" r="2.2" fill="#9292a6"/>
<circle cx="439.2" cy="615.2" r="2.2" fill="#9292a6"/>
<circle cx="430.4" cy="607.1" r="2.2" fill="#9292a6"/>
<circle cx="434.8" cy="610" r="2.2" fill="#9292a6"/>
<circle cx="414.3" cy="615.2" r="2.2" fill="#8484a1"/>
<circle cx="442.4" cy="600.7" r="2.2" fill="#7f7f9f"/>
<circle cx="422" cy="598" r="2.2" fill="#595993"/>
<circle cx="421.2" cy="591.4" r="2.2" fill="#43438b"/>
<rect x="354.3" y="534.9" width="230.1" height="237.3" fill="none" stroke="#d6d6d6" stroke-width="1.3"/>
<line x1="399.5" y1="772.2" x2="399.5" y2="774.7" stroke="#444" stroke-width="1"/>
<text x="399.5" y="783.9" font-size="9.6" text-anchor="middle" fill="#000" >-1</text>
<line x1="469.3" y1="772.2" x2="469.3" y2="774.7" stroke="#444" stroke-width="1"/>
<text x="469.3" y="783.9" font-size="9.6" text-anchor="middle" fill="#000" >0</text>
<line x1="539.1" y1="772.2" x2="539.1" y2="774.7" stroke="#444" stroke-width="1"/>
<text x="539.1" y="783.9" font-size="9.6" text-anchor="middle" fill="#000" >1</text>
<line x1="351.7" y1="725.3" x2="354.3" y2="725.3" stroke="#444" stroke-width="1"/>
<text x="349.3" y="728.8" font-size="9.6" text-anchor="end" fill="#000" >-2</text>
<line x1="351.7" y1="653.4" x2="354.3" y2="653.4" stroke="#444" stroke-width="1"/>
<text x="349.3" y="656.9" font-size="9.6" text-anchor="end" fill="#000" >0</text>
<line x1="351.7" y1="581.5" x2="354.3" y2="581.5" stroke="#444" stroke-width="1"/>
<text x="349.3" y="585.0" font-size="9.6" text-anchor="end" fill="#000" >2</text>
<text x="469.3" y="796.0" font-size="10.9" text-anchor="middle" fill="#000" >logFC / Gambian cohort</text>
<text x="0" y="0" font-size="10.8" text-anchor="middle" fill="#000" transform="translate(336.90000000000003,653.8) rotate(-90)">logFC / C57BL/6</text>
</g>
</svg></div></body></html>
